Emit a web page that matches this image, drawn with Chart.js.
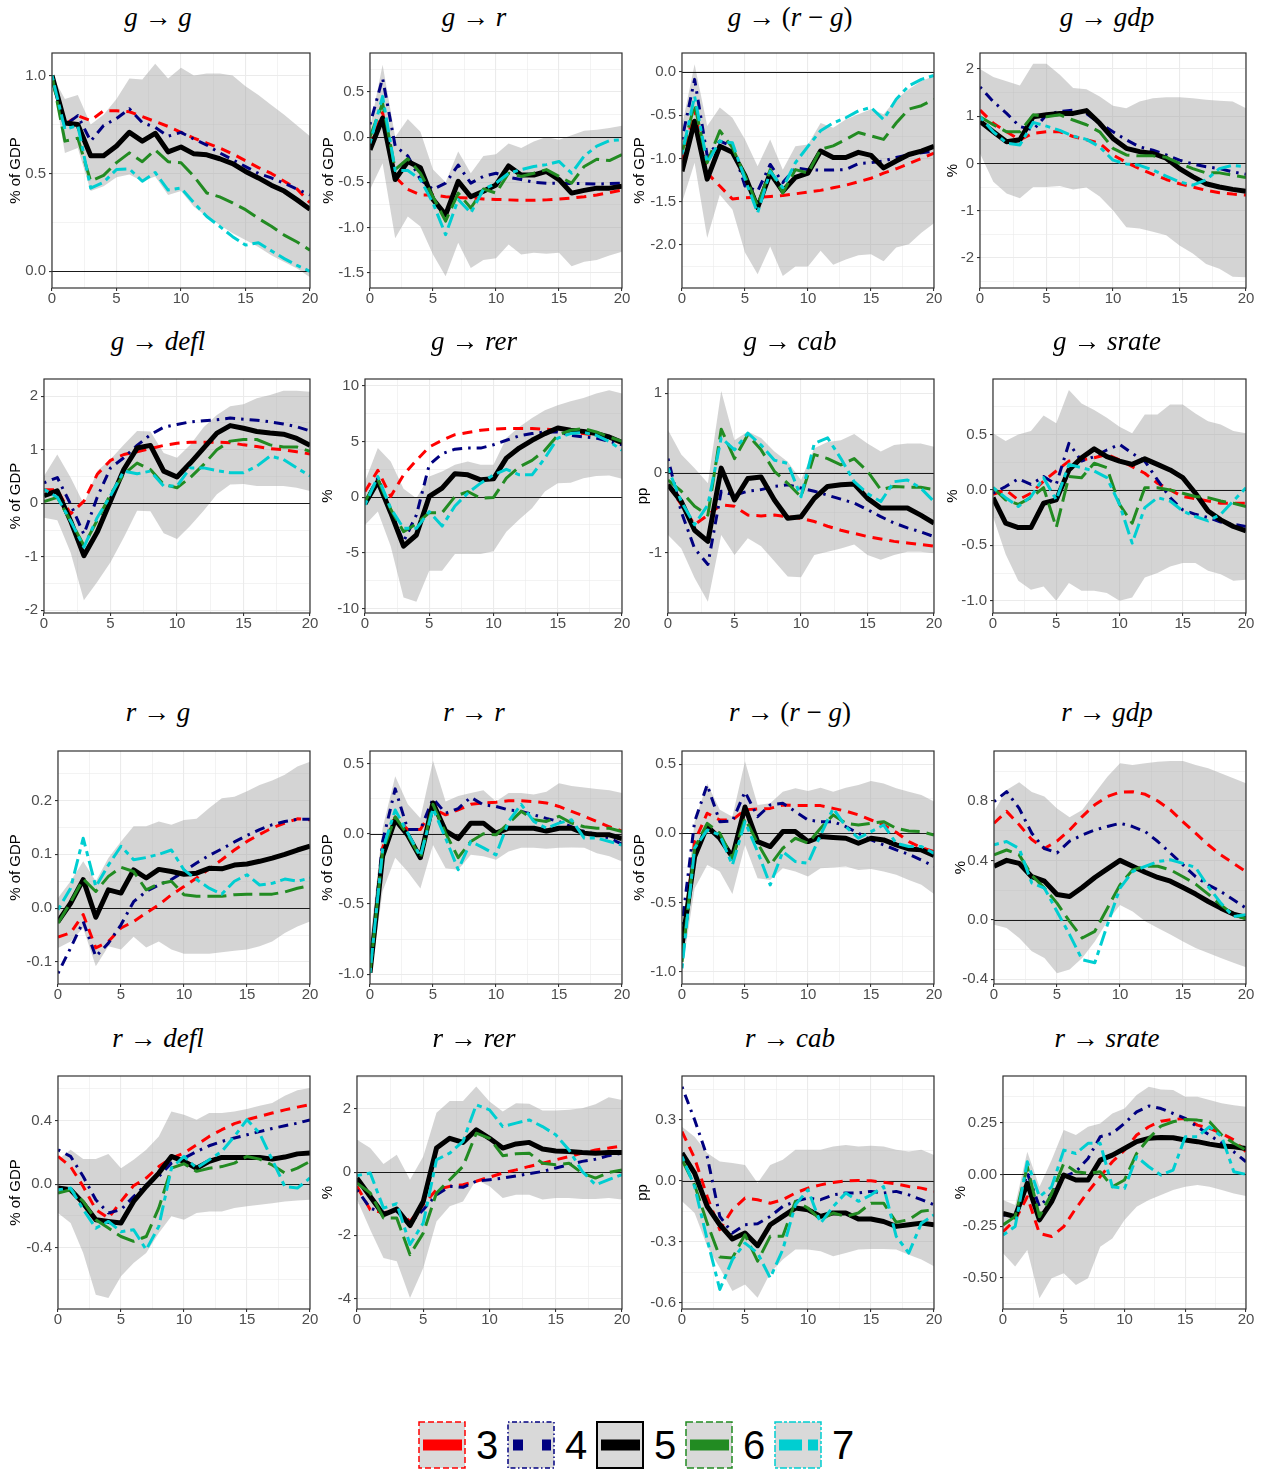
<!DOCTYPE html>
<html>
<head>
<meta charset="utf-8">
<title>Impulse responses</title>
<script src="https://cdn.jsdelivr.net/npm/chart.js@4.4.1/dist/chart.umd.min.js"></script>
<style>
    body { margin: 0; background: #fff; width: 1266px; height: 1471px; position: relative; overflow: hidden; font-family: "Liberation Sans", Arial, sans-serif; }
    .panel { position: absolute; }
    .title { position: absolute; text-align: center; font-family: "Liberation Serif", "DejaVu Serif", serif; font-size: 27px; line-height: 32px; height: 32px; color: #000; white-space: nowrap; }
    .title i { font-style: italic; }
    .key { position: absolute; }
    .key-label { position: absolute; font-size: 40px; line-height: 48px; color: #000; }
</style>
</head>
<body>
<script>
// Horizons and series
const HORIZON = [0, 1, 2, 3, 4, 5, 6, 7, 8, 9, 10, 11, 12, 13, 14, 15, 16, 17, 18, 19, 20];
const X_TICKS = [0, 5, 10, 15, 20];
const SERIES_NAMES = ["3", "4", "5", "6", "7"];

// g -> g
const gg3 = [1.0, 0.75, 0.795, 0.77, 0.82, 0.82, 0.815, 0.79, 0.765, 0.74, 0.71, 0.68, 0.655, 0.63, 0.60, 0.565, 0.53, 0.50, 0.46, 0.42, 0.35];
const gg4 = [1.0, 0.746, 0.795, 0.665, 0.745, 0.78, 0.83, 0.76, 0.735, 0.69, 0.71, 0.675, 0.645, 0.605, 0.57, 0.535, 0.50, 0.477, 0.45, 0.42, 0.39];
const gg5 = [1.0, 0.757, 0.75, 0.59, 0.59, 0.64, 0.71, 0.665, 0.705, 0.61, 0.635, 0.60, 0.595, 0.575, 0.55, 0.51, 0.477, 0.44, 0.41, 0.365, 0.317];
const gg6 = [1.0, 0.665, 0.68, 0.46, 0.49, 0.555, 0.605, 0.56, 0.62, 0.56, 0.555, 0.485, 0.40, 0.38, 0.35, 0.315, 0.27, 0.23, 0.185, 0.15, 0.108];
const gg7 = [1.0, 0.725, 0.745, 0.425, 0.455, 0.52, 0.523, 0.46, 0.505, 0.415, 0.425, 0.35, 0.28, 0.23, 0.177, 0.134, 0.146, 0.105, 0.065, 0.03, 0.0];
const ggLo = [1.0, 0.605, 0.63, 0.41, 0.435, 0.48, 0.495, 0.46, 0.485, 0.39, 0.41, 0.33, 0.28, 0.237, 0.194, 0.16, 0.125, 0.082, 0.048, 0.014, -0.03];
const ggHi = [1.0, 0.88, 0.90, 0.75, 0.80, 0.88, 0.985, 0.98, 1.06, 0.985, 1.04, 1.0, 1.01, 1.01, 1.0, 0.945, 0.90, 0.85, 0.80, 0.745, 0.69];
const ggTicks = ["0.0", "0.5", "1.0"];

// g -> r
const gr3 = [-0.10, 0.27, -0.44, -0.58, -0.64, -0.64, -0.66, -0.67, -0.675, -0.685, -0.69, -0.695, -0.70, -0.70, -0.695, -0.685, -0.675, -0.66, -0.64, -0.615, -0.585];
const gr4 = [0.14, 0.65, -0.10, -0.21, -0.47, -0.58, -0.51, -0.31, -0.51, -0.435, -0.40, -0.445, -0.47, -0.50, -0.51, -0.51, -0.515, -0.515, -0.52, -0.515, -0.51];
const gr5 = [-0.14, 0.21, -0.47, -0.27, -0.34, -0.69, -0.86, -0.49, -0.66, -0.60, -0.53, -0.32, -0.42, -0.42, -0.38, -0.47, -0.62, -0.59, -0.565, -0.565, -0.545];
const gr6 = [0.0, 0.375, -0.36, -0.24, -0.40, -0.66, -0.93, -0.62, -0.785, -0.575, -0.62, -0.40, -0.435, -0.40, -0.36, -0.435, -0.51, -0.325, -0.245, -0.26, -0.195];
const gr7 = [-0.07, 0.45, -0.37, -0.37, -0.47, -0.73, -1.08, -0.69, -0.84, -0.58, -0.51, -0.40, -0.36, -0.325, -0.305, -0.27, -0.40, -0.21, -0.10, -0.04, -0.03];
const grLo = [-0.58, -0.29, -1.12, -0.88, -0.99, -1.30, -1.54, -1.17, -1.45, -1.36, -1.34, -1.19, -1.30, -1.28, -1.29, -1.28, -1.43, -1.38, -1.36, -1.31, -1.27];
const grHi = [0.10, 0.80, 0.0, 0.20, 0.06, -0.36, -0.50, -0.16, -0.40, -0.21, -0.19, -0.07, -0.12, -0.05, 0.0, -0.03, 0.02, 0.07, 0.08, 0.10, 0.125];
const grTicks = ["-1.5", "-1.0", "-0.5", "0.0", "0.5"];

// g -> (r - g)
const grg3 = [-1.05, -0.43, -1.17, -1.32, -1.47, -1.455, -1.45, -1.44, -1.43, -1.41, -1.39, -1.37, -1.34, -1.31, -1.27, -1.23, -1.17, -1.12, -1.06, -1.0, -0.94];
const grg4 = [-0.78, -0.085, -0.97, -0.80, -0.86, -1.32, -1.38, -1.07, -1.28, -1.11, -1.13, -1.135, -1.135, -1.13, -1.06, -1.05, -1.03, -0.99, -0.955, -0.935, -0.915];
const grg5 = [-1.15, -0.57, -1.24, -0.86, -0.93, -1.20, -1.57, -1.17, -1.38, -1.22, -1.17, -0.915, -0.99, -0.99, -0.93, -0.965, -1.11, -1.03, -0.955, -0.915, -0.86];
const grg6 = [-0.935, -0.375, -1.05, -0.68, -0.875, -1.20, -1.55, -1.13, -1.40, -1.13, -1.17, -0.895, -0.855, -0.78, -0.70, -0.74, -0.78, -0.59, -0.43, -0.39, -0.315];
const grg7 = [-0.955, -0.28, -1.05, -0.80, -0.82, -1.24, -1.63, -1.15, -1.34, -1.05, -0.86, -0.68, -0.59, -0.53, -0.45, -0.41, -0.55, -0.315, -0.16, -0.085, -0.04];
const grgLo = [-1.51, -1.05, -1.92, -1.42, -1.59, -2.09, -2.34, -2.02, -2.36, -2.25, -2.25, -2.07, -2.23, -2.17, -2.12, -2.11, -2.19, -2.03, -1.995, -1.86, -1.75];
const grgHi = [-0.625, 0.09, -0.625, -0.41, -0.53, -0.78, -1.09, -0.78, -1.13, -0.86, -0.84, -0.59, -0.645, -0.55, -0.49, -0.43, -0.49, -0.315, -0.20, -0.105, -0.045];
const grgTicks = ["-2.0", "-1.5", "-1.0", "-0.5", "0.0"];

// g -> gdp
const ggdp3 = [1.13, 0.85, 0.67, 0.50, 0.64, 0.67, 0.67, 0.57, 0.50, 0.43, 0.18, 0.02, -0.11, -0.23, -0.34, -0.43, -0.50, -0.57, -0.62, -0.65, -0.67];
const ggdp4 = [1.62, 1.31, 1.06, 0.78, 0.71, 1.03, 1.10, 1.13, 1.06, 0.85, 0.67, 0.50, 0.35, 0.28, 0.18, 0.07, -0.01, -0.07, -0.11, -0.18, -0.23];
const ggdp5 = [0.89, 0.67, 0.46, 0.50, 0.99, 1.03, 1.06, 1.06, 1.12, 0.85, 0.53, 0.32, 0.25, 0.21, 0.11, -0.11, -0.28, -0.43, -0.50, -0.55, -0.59];
const ggdp6 = [0.99, 0.82, 0.67, 0.67, 1.03, 0.99, 1.03, 0.92, 0.82, 0.67, 0.32, 0.18, 0.16, 0.16, 0.13, 0.0, -0.11, -0.20, -0.20, -0.25, -0.30];
const ggdp7 = [0.99, 0.67, 0.43, 0.39, 0.87, 0.79, 0.70, 0.58, 0.51, 0.35, 0.07, -0.01, -0.04, -0.14, -0.27, -0.39, -0.46, -0.35, -0.11, -0.04, -0.07];
const ggdpLo = [0.21, -0.39, -0.64, -0.74, -0.50, -0.50, -0.48, -0.55, -0.51, -0.70, -0.99, -1.35, -1.38, -1.45, -1.52, -1.74, -1.91, -2.13, -2.23, -2.40, -2.41];
const ggdpHi = [2.0, 1.83, 1.74, 1.65, 2.11, 2.11, 1.88, 1.60, 1.57, 1.42, 1.22, 1.17, 1.31, 1.38, 1.40, 1.40, 1.38, 1.35, 1.33, 1.31, 1.17];
const ggdpTicks = ["-2", "-1", "0", "1", "2"];

// g -> defl
const gd3 = [0.25, 0.25, -0.20, 0.04, 0.54, 0.80, 0.91, 0.96, 1.02, 1.08, 1.12, 1.14, 1.14, 1.14, 1.13, 1.09, 1.06, 1.02, 1.0, 0.96, 0.92];
const gd4 = [0.38, 0.48, -0.02, -0.58, 0.11, 0.66, 0.85, 1.08, 1.28, 1.42, 1.47, 1.52, 1.54, 1.56, 1.59, 1.57, 1.55, 1.52, 1.48, 1.43, 1.35];
const gd5 = [0.14, 0.23, -0.33, -0.98, -0.54, 0.04, 0.63, 1.03, 1.08, 0.60, 0.49, 0.75, 1.03, 1.31, 1.45, 1.40, 1.34, 1.31, 1.29, 1.21, 1.08];
const gd6 = [0.03, 0.11, -0.33, -0.79, -0.32, 0.17, 0.54, 0.75, 0.63, 0.35, 0.29, 0.48, 0.72, 1.0, 1.16, 1.19, 1.19, 1.09, 1.05, 1.05, 0.97];
const gd7 = [0.26, 0.11, -0.33, -0.82, -0.27, 0.14, 0.60, 0.55, 0.60, 0.32, 0.32, 0.66, 0.66, 0.61, 0.57, 0.57, 0.69, 0.88, 0.82, 0.66, 0.51];
const gdLo = [-0.27, -0.32, -0.92, -1.81, -1.47, -1.10, -0.64, -0.14, -0.15, -0.56, -0.67, -0.42, -0.14, 0.17, 0.35, 0.36, 0.32, 0.32, 0.32, 0.29, 0.23];
const gdHi = [0.51, 0.91, 0.48, -0.02, 0.60, 0.82, 1.09, 1.35, 1.34, 0.94, 0.85, 1.09, 1.42, 1.65, 1.81, 1.85, 1.96, 2.02, 2.10, 2.10, 2.08];
const gdTicks = ["-2", "-1", "0", "1", "2"];

// g -> rer
const grer3 = [0.5, 2.4, 0.06, 2.0, 3.3, 4.5, 5.1, 5.6, 5.8, 6.0, 6.1, 6.15, 6.15, 6.15, 6.1, 6.0, 5.85, 5.7, 5.55, 5.3, 4.8];
const grer4 = [-0.4, 1.7, -1.3, -4.0, -1.6, 2.9, 3.9, 4.3, 4.4, 4.4, 4.7, 5.1, 5.5, 5.7, 5.85, 5.85, 5.55, 5.4, 5.3, 5.0, 4.7];
const grer5 = [-0.6, 1.4, -1.4, -4.4, -3.4, 0.06, 0.8, 2.1, 2.0, 1.55, 1.64, 3.5, 4.4, 5.1, 5.7, 6.2, 6.0, 5.9, 5.7, 5.4, 4.9];
const grer6 = [-0.4, 1.6, -1.1, -3.1, -2.4, -1.4, -1.4, 0.06, 0.5, -0.1, -0.03, 1.7, 2.7, 3.3, 4.2, 5.55, 6.0, 6.15, 5.85, 5.4, 5.0];
const grer7 = [-0.7, 1.85, -1.0, -2.8, -2.8, -1.3, -2.6, -0.8, 0.36, 1.25, 2.0, 2.5, 2.0, 2.0, 3.5, 5.3, 5.7, 5.8, 5.55, 5.0, 4.2];
const grerLo = [-2.5, -1.3, -4.4, -9.0, -9.4, -6.6, -6.6, -5.1, -5.1, -5.1, -4.85, -3.1, -2.0, -1.0, 0.5, 1.25, 1.3, 1.7, 1.9, 1.95, 1.64];
const grerHi = [1.4, 4.4, 3.2, 0.74, -0.1, 1.85, 2.3, 2.9, 3.2, 2.9, 2.9, 5.3, 6.3, 7.1, 7.8, 8.25, 8.6, 8.9, 9.3, 9.6, 9.3];
const grerTicks = ["-10", "-5", "0", "5", "10"];

// g -> cab
const gc3 = [-0.15, -0.40, -0.65, -0.53, -0.40, -0.42, -0.53, -0.54, -0.53, -0.55, -0.57, -0.61, -0.67, -0.72, -0.76, -0.80, -0.83, -0.86, -0.88, -0.90, -0.92];
const gc4 = [0.18, -0.49, -0.95, -1.15, -0.23, -0.28, -0.23, -0.21, -0.17, -0.15, -0.19, -0.23, -0.28, -0.33, -0.38, -0.46, -0.55, -0.63, -0.69, -0.74, -0.80];
const gc5 = [-0.15, -0.36, -0.72, -0.86, 0.06, -0.34, -0.07, -0.05, -0.34, -0.57, -0.55, -0.32, -0.17, -0.15, -0.14, -0.32, -0.44, -0.44, -0.44, -0.53, -0.63];
const gc6 = [-0.09, -0.23, -0.42, -0.53, 0.55, 0.18, 0.48, 0.29, 0.02, -0.13, -0.30, 0.23, 0.18, 0.10, 0.18, 0.02, -0.21, -0.17, -0.18, -0.18, -0.21];
const gc7 = [0.06, -0.36, -0.65, -0.40, 0.44, 0.29, 0.50, 0.35, 0.16, 0.12, -0.30, 0.37, 0.44, 0.18, -0.11, -0.26, -0.36, -0.11, -0.09, -0.19, -0.36];
const gcLo = [-0.78, -0.95, -1.32, -1.62, -0.78, -1.03, -0.82, -0.92, -1.11, -1.30, -1.31, -1.03, -0.99, -0.95, -0.90, -1.03, -1.09, -1.03, -0.99, -0.99, -1.01];
const gcHi = [0.54, 0.23, 0.06, -0.13, 1.03, 0.41, 0.52, 0.44, 0.27, 0.14, -0.09, 0.31, 0.39, 0.41, 0.49, 0.37, 0.27, 0.35, 0.37, 0.37, 0.33];
const gcTicks = ["-1", "0", "1"];

// g -> srate
const gs3 = [-0.04, 0.0, -0.09, -0.03, 0.08, 0.17, 0.26, 0.27, 0.29, 0.32, 0.27, 0.21, 0.15, 0.06, 0.0, -0.06, -0.08, -0.10, -0.12, -0.12, -0.12];
const gs4 = [-0.03, 0.03, 0.10, 0.05, 0.12, 0.05, 0.42, 0.26, 0.30, 0.36, 0.41, 0.33, 0.26, 0.09, -0.07, -0.18, -0.22, -0.25, -0.29, -0.31, -0.33];
const gs5 = [-0.07, -0.30, -0.34, -0.34, -0.12, -0.09, 0.18, 0.29, 0.37, 0.30, 0.26, 0.23, 0.28, 0.23, 0.18, 0.11, -0.03, -0.19, -0.27, -0.33, -0.37];
const gs6 = [0.02, -0.09, -0.13, -0.07, 0.02, -0.34, 0.12, 0.11, 0.24, 0.20, -0.13, -0.30, 0.02, 0.02, 0.0, -0.03, -0.06, -0.07, -0.10, -0.12, -0.15];
const gs7 = [0.02, -0.07, -0.15, -0.06, 0.11, -0.09, 0.23, 0.20, 0.17, 0.11, -0.13, -0.48, -0.16, -0.07, -0.10, -0.19, -0.24, -0.28, -0.22, -0.10, 0.02];
const gsLo = [-0.24, -0.58, -0.82, -0.90, -0.87, -1.0, -0.84, -0.91, -0.91, -0.93, -1.0, -0.97, -0.79, -0.75, -0.69, -0.66, -0.66, -0.73, -0.76, -0.82, -0.81];
const gsHi = [0.51, 0.44, 0.50, 0.53, 0.67, 0.60, 0.90, 0.78, 0.72, 0.65, 0.57, 0.51, 0.68, 0.68, 0.77, 0.77, 0.69, 0.62, 0.59, 0.53, 0.51];
const gsTicks = ["-1.0", "-0.5", "0.0", "0.5"];

// r -> g
const rg3 = [-0.054, -0.046, -0.012, -0.074, -0.062, -0.037, -0.025, -0.009, 0.006, 0.025, 0.040, 0.056, 0.073, 0.090, 0.108, 0.124, 0.137, 0.149, 0.158, 0.166, 0.164];
const rg4 = [-0.121, -0.074, -0.025, -0.090, -0.065, -0.031, 0.012, 0.031, 0.043, 0.053, 0.068, 0.084, 0.098, 0.110, 0.123, 0.135, 0.146, 0.155, 0.161, 0.165, 0.165];
const rg5 = [-0.025, 0.009, 0.053, -0.017, 0.034, 0.028, 0.071, 0.056, 0.072, 0.068, 0.063, 0.065, 0.074, 0.073, 0.080, 0.082, 0.087, 0.093, 0.100, 0.108, 0.115];
const rg6 = [-0.028, 0.011, 0.054, 0.031, 0.059, 0.076, 0.068, 0.034, 0.045, 0.050, 0.025, 0.022, 0.022, 0.022, 0.025, 0.026, 0.026, 0.026, 0.030, 0.037, 0.042];
const rg7 = [-0.003, 0.037, 0.130, 0.040, 0.080, 0.115, 0.090, 0.094, 0.100, 0.108, 0.071, 0.053, 0.037, 0.026, 0.050, 0.062, 0.043, 0.046, 0.054, 0.050, 0.056];
const rgLo = [-0.074, -0.062, -0.037, -0.108, -0.071, -0.077, -0.053, -0.073, -0.062, -0.077, -0.085, -0.085, -0.085, -0.082, -0.079, -0.077, -0.071, -0.062, -0.046, -0.034, -0.025];
const rgHi = [0.019, 0.050, 0.087, 0.050, 0.093, 0.124, 0.152, 0.152, 0.161, 0.155, 0.164, 0.166, 0.186, 0.204, 0.207, 0.217, 0.229, 0.237, 0.248, 0.263, 0.272];
const rgTicks = ["-0.1", "0.0", "0.1", "0.2"];

// r -> r
const rr3 = [-0.99, -0.10, 0.12, 0.03, 0.03, 0.18, 0.135, 0.17, 0.21, 0.22, 0.225, 0.235, 0.235, 0.23, 0.22, 0.195, 0.16, 0.125, 0.088, 0.05, 0.02];
const rr4 = [-0.99, -0.055, 0.32, 0.03, 0.03, 0.25, 0.147, 0.18, 0.26, 0.207, 0.195, 0.17, 0.16, 0.135, 0.11, 0.088, 0.05, 0.017, -0.007, -0.03, -0.074];
const rr5 = [-0.99, -0.16, 0.10, -0.01, -0.17, 0.22, 0.02, -0.035, 0.076, 0.076, 0.005, 0.04, 0.04, 0.04, 0.02, 0.04, 0.04, 0.005, -0.007, -0.007, -0.035];
const rr6 = [-0.99, -0.126, 0.12, -0.007, -0.17, 0.21, 0.005, -0.17, -0.055, 0.0, -0.007, 0.076, 0.16, 0.10, 0.088, 0.125, 0.076, 0.05, 0.04, 0.04, 0.017];
const rr7 = [-0.99, -0.114, 0.17, 0.005, -0.16, 0.18, -0.03, -0.256, -0.055, -0.10, -0.15, 0.088, 0.21, 0.088, 0.04, 0.076, 0.10, -0.03, -0.03, -0.055, -0.08];
const rrLo = [-1.06, -0.41, -0.17, -0.27, -0.39, -0.08, -0.245, -0.256, -0.15, -0.16, -0.185, -0.126, -0.10, -0.10, -0.107, -0.10, -0.097, -0.10, -0.138, -0.16, -0.197];
const rrHi = [-0.77, 0.04, 0.41, 0.21, 0.11, 0.52, 0.23, 0.27, 0.29, 0.31, 0.23, 0.29, 0.29, 0.28, 0.30, 0.36, 0.34, 0.33, 0.32, 0.31, 0.29];
const rrTicks = ["-1.0", "-0.5", "0.0", "0.5"];

// r -> (r - g)
const rrg3 = [-0.855, -0.06, 0.145, 0.096, 0.096, 0.17, 0.176, 0.18, 0.205, 0.20, 0.20, 0.20, 0.18, 0.16, 0.133, 0.096, 0.06, 0.007, -0.06, -0.104, -0.133];
const rrg4 = [-0.66, 0.084, 0.35, 0.084, 0.089, 0.30, 0.12, 0.205, 0.217, 0.157, 0.096, 0.084, 0.084, 0.048, 0.0, -0.048, -0.084, -0.12, -0.152, -0.193, -0.24];
const rrg5 = [-0.81, -0.17, 0.05, -0.036, -0.17, 0.19, -0.06, -0.096, 0.012, 0.012, -0.06, -0.024, -0.031, -0.036, -0.072, -0.036, -0.048, -0.084, -0.113, -0.12, -0.16];
const rrg6 = [-0.93, -0.108, 0.072, 0.0, -0.18, 0.108, -0.072, -0.23, -0.108, -0.036, -0.072, 0.036, 0.133, 0.072, 0.06, 0.072, 0.084, 0.036, 0.017, 0.012, -0.012];
const rrg7 = [-0.976, -0.108, 0.024, -0.012, -0.23, 0.084, -0.133, -0.373, -0.133, -0.205, -0.217, -0.012, 0.18, 0.048, -0.036, 0.012, 0.06, -0.072, -0.096, -0.096, -0.145];
const rrgLo = [-1.0, -0.40, -0.23, -0.277, -0.44, -0.084, -0.325, -0.337, -0.253, -0.277, -0.313, -0.253, -0.248, -0.24, -0.265, -0.258, -0.277, -0.30, -0.337, -0.373, -0.44];
const rrgHi = [-0.735, 0.084, 0.36, 0.17, 0.12, 0.52, 0.205, 0.217, 0.30, 0.325, 0.306, 0.33, 0.30, 0.33, 0.35, 0.378, 0.36, 0.325, 0.30, 0.277, 0.229];
const rrgTicks = ["-1.0", "-0.5", "0.0", "0.5"];

// r -> gdp
const rgdp3 = [0.65, 0.73, 0.64, 0.54, 0.48, 0.53, 0.605, 0.695, 0.774, 0.83, 0.86, 0.863, 0.845, 0.80, 0.74, 0.66, 0.583, 0.505, 0.437, 0.38, 0.325];
const rgdp4 = [0.796, 0.863, 0.75, 0.583, 0.48, 0.45, 0.53, 0.57, 0.605, 0.628, 0.65, 0.628, 0.594, 0.527, 0.45, 0.37, 0.29, 0.235, 0.19, 0.135, 0.078];
const rgdp5 = [0.36, 0.40, 0.38, 0.29, 0.26, 0.17, 0.157, 0.217, 0.285, 0.343, 0.40, 0.36, 0.32, 0.285, 0.26, 0.217, 0.173, 0.123, 0.078, 0.038, 0.016];
const rgdp6 = [0.437, 0.47, 0.437, 0.30, 0.213, 0.112, -0.011, -0.123, -0.078, 0.078, 0.235, 0.336, 0.36, 0.36, 0.336, 0.29, 0.24, 0.173, 0.10, 0.034, 0.007];
const rgdp7 = [0.505, 0.527, 0.48, 0.247, 0.213, 0.056, -0.10, -0.27, -0.29, -0.034, 0.213, 0.325, 0.36, 0.392, 0.404, 0.38, 0.352, 0.224, 0.112, 0.022, 0.034];
const rgdpLo = [-0.034, -0.056, -0.123, -0.213, -0.258, -0.36, -0.336, -0.258, -0.146, -0.011, 0.10, 0.056, -0.011, -0.056, -0.10, -0.146, -0.19, -0.224, -0.258, -0.29, -0.32];
const rgdpHi = [0.73, 0.874, 0.926, 0.86, 0.83, 0.75, 0.69, 0.74, 0.852, 0.964, 1.054, 1.043, 1.054, 1.065, 1.07, 1.07, 1.043, 1.02, 0.987, 0.953, 0.92];
const rgdpTicks = ["-0.4", "0.0", "0.4", "0.8"];

// r -> defl
const rd3 = [0.174, 0.11, -0.015, -0.16, -0.214, -0.109, -0.01, 0.038, 0.11, 0.163, 0.195, 0.247, 0.30, 0.342, 0.38, 0.405, 0.426, 0.447, 0.467, 0.484, 0.50];
const rd4 = [0.216, 0.174, 0.048, -0.099, -0.182, -0.161, -0.078, -0.004, 0.048, 0.132, 0.163, 0.205, 0.241, 0.268, 0.29, 0.31, 0.33, 0.35, 0.367, 0.383, 0.404];
const rd5 = [-0.025, -0.036, -0.12, -0.224, -0.235, -0.245, -0.109, -0.015, 0.069, 0.174, 0.143, 0.10, 0.143, 0.168, 0.168, 0.168, 0.168, 0.157, 0.17, 0.19, 0.195];
const rd6 = [-0.057, -0.036, -0.109, -0.224, -0.277, -0.33, -0.36, -0.33, -0.15, 0.10, 0.128, 0.08, 0.10, 0.11, 0.132, 0.174, 0.157, 0.12, 0.069, 0.10, 0.143];
const rd7 = [-0.036, -0.025, -0.16, -0.277, -0.235, -0.30, -0.287, -0.413, -0.266, 0.10, 0.174, 0.10, 0.153, 0.205, 0.30, 0.405, 0.32, 0.153, -0.015, -0.025, 0.038];
const rdLo = [-0.182, -0.245, -0.434, -0.696, -0.717, -0.58, -0.497, -0.434, -0.308, -0.203, -0.224, -0.182, -0.172, -0.172, -0.15, -0.14, -0.13, -0.12, -0.109, -0.103, -0.099];
const rdHi = [0.153, 0.216, 0.157, 0.157, 0.19, 0.10, 0.153, 0.216, 0.30, 0.457, 0.436, 0.405, 0.447, 0.447, 0.457, 0.472, 0.493, 0.51, 0.556, 0.59, 0.604];
const rdTicks = ["-0.4", "0.0", "0.4"];

// r -> rer
const rrer3 = [-0.45, -1.19, -1.29, -1.19, -1.56, -1.03, -0.56, -0.45, -0.40, -0.29, -0.16, -0.03, 0.07, 0.18, 0.28, 0.39, 0.49, 0.60, 0.70, 0.76, 0.83];
const rrer4 = [-0.56, -1.14, -1.29, -1.24, -1.61, -1.19, -0.72, -0.45, -0.48, -0.29, -0.24, -0.19, -0.12, -0.05, 0.02, 0.13, 0.23, 0.34, 0.41, 0.52, 0.60];
const rrer5 = [-0.19, -0.77, -1.35, -1.17, -1.69, -0.93, 0.76, 1.07, 0.94, 1.34, 1.07, 0.76, 0.89, 0.94, 0.73, 0.67, 0.65, 0.62, 0.60, 0.62, 0.62];
const rrer6 = [-0.35, -0.66, -1.45, -1.45, -2.61, -1.93, -0.66, -0.24, 0.18, 1.23, 1.07, 0.52, 0.58, 0.60, 0.28, 0.23, 0.28, -0.03, -0.19, -0.01, 0.07];
const rrer7 = [-0.11, -0.03, -1.14, -1.0, -2.29, -1.61, 0.39, 0.60, 0.97, 2.13, 1.97, 1.44, 1.55, 1.65, 1.44, 1.18, 0.70, 0.02, -0.40, -0.24, -0.08];
const rrerLo = [-0.87, -1.82, -2.72, -2.82, -3.98, -3.03, -1.56, -1.08, -0.93, -0.24, -0.45, -0.82, -0.72, -0.72, -0.87, -0.82, -0.82, -0.85, -0.85, -0.82, -0.87];
const rrerHi = [1.02, 0.76, 0.26, 0.55, -0.24, 0.49, 1.88, 2.25, 2.25, 2.71, 2.23, 1.92, 2.18, 2.16, 1.95, 1.95, 1.97, 2.02, 2.15, 2.37, 2.28];
const rrerTicks = ["-4", "-2", "0", "2"];

// r -> cab
const rc3 = [0.242, 0.111, -0.077, -0.24, -0.142, -0.085, -0.093, -0.11, -0.093, -0.06, -0.036, -0.02, -0.008, 0.0, 0.002, 0.0, -0.007, -0.015, -0.028, -0.036, -0.052];
const rc4 = [0.462, 0.30, 0.119, -0.175, -0.257, -0.216, -0.211, -0.175, -0.126, -0.101, -0.085, -0.093, -0.069, -0.06, -0.06, -0.052, -0.06, -0.052, -0.069, -0.093, -0.118];
const rc5 = [0.136, 0.038, -0.126, -0.216, -0.286, -0.257, -0.319, -0.216, -0.175, -0.134, -0.142, -0.175, -0.158, -0.158, -0.188, -0.188, -0.20, -0.224, -0.216, -0.208, -0.216];
const rc6 = [0.103, -0.02, -0.208, -0.374, -0.379, -0.265, -0.395, -0.273, -0.273, -0.101, -0.134, -0.191, -0.158, -0.175, -0.158, -0.11, -0.11, -0.204, -0.191, -0.15, -0.142];
const rc7 = [0.119, -0.028, -0.289, -0.534, -0.387, -0.306, -0.355, -0.477, -0.338, -0.118, -0.044, -0.208, -0.126, -0.06, -0.101, -0.069, -0.028, -0.273, -0.355, -0.208, -0.167];
const rcLo = [-0.101, -0.158, -0.322, -0.428, -0.542, -0.51, -0.575, -0.453, -0.387, -0.338, -0.338, -0.346, -0.371, -0.355, -0.338, -0.335, -0.335, -0.338, -0.363, -0.387, -0.42];
const rcHi = [0.266, 0.217, 0.136, 0.095, 0.087, 0.078, -0.011, 0.078, 0.103, 0.152, 0.152, 0.152, 0.168, 0.176, 0.168, 0.172, 0.168, 0.152, 0.144, 0.152, 0.127];
const rcTicks = ["-0.6", "-0.3", "0.0", "0.3"];

// r -> srate
const rs3 = [-0.277, -0.22, -0.108, -0.285, -0.30, -0.252, -0.164, -0.084, -0.011, 0.061, 0.117, 0.19, 0.23, 0.257, 0.265, 0.27, 0.238, 0.222, 0.198, 0.166, 0.109];
const rs4 = [-0.196, -0.204, 0.005, -0.156, -0.092, -0.011, 0.013, 0.077, 0.182, 0.198, 0.246, 0.302, 0.33, 0.318, 0.294, 0.27, 0.23, 0.19, 0.15, 0.109, 0.061];
const rs5 = [-0.188, -0.204, -0.043, -0.22, -0.132, -0.003, -0.027, -0.027, 0.069, 0.093, 0.125, 0.158, 0.174, 0.178, 0.177, 0.166, 0.158, 0.146, 0.137, 0.133, 0.125];
const rs6 = [-0.244, -0.204, 0.037, -0.204, -0.092, 0.053, 0.013, 0.005, 0.013, -0.06, -0.027, 0.101, 0.174, 0.233, 0.254, 0.265, 0.262, 0.254, 0.19, 0.15, 0.117];
const rs7 = [-0.293, -0.252, 0.061, -0.108, -0.06, 0.117, 0.101, 0.15, 0.15, -0.06, -0.068, 0.085, 0.037, -0.003, 0.021, 0.182, 0.182, 0.23, 0.182, 0.013, 0.0];
const rsLo = [-0.381, -0.445, -0.365, -0.598, -0.502, -0.477, -0.534, -0.502, -0.349, -0.309, -0.22, -0.156, -0.124, -0.10, -0.076, -0.06, -0.051, -0.06, -0.076, -0.092, -0.104];
const rsHi = [-0.124, -0.148, 0.109, -0.06, 0.069, 0.214, 0.19, 0.23, 0.246, 0.294, 0.318, 0.383, 0.423, 0.41, 0.407, 0.375, 0.375, 0.359, 0.343, 0.334, 0.326];
const rsTicks = ["-0.50", "-0.25", "0.00", "0.25"];

// Panel table (row by row)
const PANELS = [
    { title: "g → g", unit: "% of GDP", lines: [gg3, gg4, gg5, gg6, gg7], lo: ggLo, hi: ggHi, ticks: ggTicks, yMin: -0.085, yMax: 1.115 },
    { title: "g → r", unit: "% of GDP", lines: [gr3, gr4, gr5, gr6, gr7], lo: grLo, hi: grHi, ticks: grTicks, yMin: -1.67, yMax: 0.93 },
    { title: "g → (r − g)", unit: "% of GDP", lines: [grg3, grg4, grg5, grg6, grg7], lo: grgLo, hi: grgHi, ticks: grgTicks, yMin: -2.50, yMax: 0.22 },
    { title: "g → gdp", unit: "%", lines: [ggdp3, ggdp4, ggdp5, ggdp6, ggdp7], lo: ggdpLo, hi: ggdpHi, ticks: ggdpTicks, yMin: -2.64, yMax: 2.34 },
    { title: "g → defl", unit: "% of GDP", lines: [gd3, gd4, gd5, gd6, gd7], lo: gdLo, hi: gdHi, ticks: gdTicks, yMin: -2.05, yMax: 2.32 },
    { title: "g → rer", unit: "%", lines: [grer3, grer4, grer5, grer6, grer7], lo: grerLo, hi: grerHi, ticks: grerTicks, yMin: -10.4, yMax: 10.6 },
    { title: "g → cab", unit: "pp", lines: [gc3, gc4, gc5, gc6, gc7], lo: gcLo, hi: gcHi, ticks: gcTicks, yMin: -1.76, yMax: 1.18 },
    { title: "g → srate", unit: "%", lines: [gs3, gs4, gs5, gs6, gs7], lo: gsLo, hi: gsHi, ticks: gsTicks, yMin: -1.11, yMax: 1.0 },
    { title: "r → g", unit: "% of GDP", lines: [rg3, rg4, rg5, rg6, rg7], lo: rgLo, hi: rgHi, ticks: rgTicks, yMin: -0.141, yMax: 0.292 },
    { title: "r → r", unit: "% of GDP", lines: [rr3, rr4, rr5, rr6, rr7], lo: rrLo, hi: rrHi, ticks: rrTicks, yMin: -1.07, yMax: 0.59 },
    { title: "r → (r − g)", unit: "% of GDP", lines: [rrg3, rrg4, rrg5, rrg6, rrg7], lo: rrgLo, hi: rrgHi, ticks: rrgTicks, yMin: -1.09, yMax: 0.595 },
    { title: "r → gdp", unit: "%", lines: [rgdp3, rgdp4, rgdp5, rgdp6, rgdp7], lo: rgdpLo, hi: rgdpHi, ticks: rgdpTicks, yMin: -0.433, yMax: 1.137 },
    { title: "r → defl", unit: "% of GDP", lines: [rd3, rd4, rd5, rd6, rd7], lo: rdLo, hi: rdHi, ticks: rdTicks, yMin: -0.786, yMax: 0.68 },
    { title: "r → rer", unit: "%", lines: [rrer3, rrer4, rrer5, rrer6, rrer7], lo: rrerLo, hi: rrerHi, ticks: rrerTicks, yMin: -4.33, yMax: 3.04 },
    { title: "r → cab", unit: "pp", lines: [rc3, rc4, rc5, rc6, rc7], lo: rcLo, hi: rcHi, ticks: rcTicks, yMin: -0.63, yMax: 0.515 },
    { title: "r → srate", unit: "%", lines: [rs3, rs4, rs5, rs6, rs7], lo: rsLo, hi: rsHi, ticks: rsTicks, yMin: -0.65, yMax: 0.475 }
];

// Series styles
const SERIES_COLORS = ["#ff0000", "#000080", "#000000", "#228b22", "#00ced1"];
const SERIES_WIDTHS = [3, 3, 5, 3, 3];
const SERIES_DASHES = [[10, 7], [2.5, 6, 10, 6], [], [19, 7], [5, 5, 15, 5]];
const BAND_COLOR = "rgba(160, 160, 160, 0.45)";

// Layout (pixels)
const COL_X = [0, 316, 632, 948];
const COL_W = [316, 316, 316, 318];
const PLOT_RIGHT = [310, 622, 934, 1246];
const PLOT_TOP = [53, 379, 751, 1076];
const PLOT_BOTTOM = [288, 613, 984, 1309];
const TITLE_TOP = [1, 325, 696, 1022];
const PLOT_LEFT = [52, 370, 682, 980, 44, 365, 668, 993, 58, 370, 682, 994, 58, 357, 682, 1003];
const Y_TITLE_X = [16, 329, 640, 953, 16, 328, 643, 953, 16, 328, 640, 961, 16, 328, 643, 961];
const PAD_TOP = 12, PAD_RIGHT = 10, PAD_BOTTOM = 2, X_AXIS_H = 24;
const Y_TITLE_OFFSET = 15; // title padding + half line height

Chart.defaults.font.family = '"Liberation Sans", Arial, sans-serif';
Chart.defaults.animation = false;

const near = (a, b) => Math.abs(a - b) < 1e-9;

// Zero line just above the band, and the panel frame on top
const framePlugin = {
    id: "frame",
    afterDatasetDraw(chart, args) {
        if (args.index !== 1) return;
        const { ctx, chartArea: a } = chart;
        const py = Math.round(chart.scales.y.getPixelForValue(0)) + 0.5;
        ctx.save();
        ctx.strokeStyle = "#1a1a1a";
        ctx.lineWidth = 1;
        ctx.beginPath();
        ctx.moveTo(a.left, py);
        ctx.lineTo(a.right, py);
        ctx.stroke();
        ctx.restore();
    },
    afterDraw(chart) {
        const { ctx, chartArea: a } = chart;
        ctx.save();
        ctx.strokeStyle = "#333333";
        ctx.lineWidth = 1.2;
        ctx.strokeRect(a.left, a.top, a.right - a.left, a.bottom - a.top);
        ctx.restore();
    }
};

function points(arr) {
    return HORIZON.map((h, i) => ({ x: h, y: arr[i] }));
}

// Major ticks from the labels, minor grid halfway between
function gridValues(majors, min, max) {
    const step = majors[1] - majors[0];
    const out = majors.map(v => ({ value: v, major: true }));
    for (let v = majors[0] - step / 2; v <= max; v += step) {
        if (v >= min) out.push({ value: v, major: false });
    }
    return out.sort((a, b) => a.value - b.value);
}

function mathTitle(text) {
    return text.replace(/[a-z]+/g, m => `<i>${m}</i>`);
}

function buildPanel(p, i) {
    const r = Math.floor(i / 4), c = i % 4;
    const left = Y_TITLE_X[i] - Y_TITLE_OFFSET;
    const top = PLOT_TOP[r] - PAD_TOP;
    const width = PLOT_RIGHT[c] + PAD_RIGHT - left;
    const height = PLOT_BOTTOM[r] - PLOT_TOP[r] + PAD_TOP + X_AXIS_H + PAD_BOTTOM;
    const axisWidth = PLOT_LEFT[i] - left;

    const title = document.createElement("div");
    title.className = "title";
    title.style.left = COL_X[c] + "px";
    title.style.width = COL_W[c] + "px";
    title.style.top = TITLE_TOP[r] + "px";
    title.innerHTML = mathTitle(p.title);
    document.body.appendChild(title);

    const canvas = document.createElement("canvas");
    canvas.className = "panel";
    canvas.width = width;
    canvas.height = height;
    canvas.style.left = left + "px";
    canvas.style.top = top + "px";
    canvas.style.width = width + "px";
    canvas.style.height = height + "px";
    document.body.appendChild(canvas);

    const majors = p.ticks.map(Number);
    const yGrid = gridValues(majors, p.yMin, p.yMax);
    const xGrid = gridValues(X_TICKS, 0, 20);
    const isMajorX = v => X_TICKS.some(t => near(t, v));
    const yLabel = v => {
        const k = majors.findIndex(t => near(t, v));
        return k >= 0 ? p.ticks[k] : "";
    };

    const datasets = [
        { data: points(p.lo), borderWidth: 0, pointRadius: 0, fill: false, order: 10 },
        { data: points(p.hi), borderWidth: 0, pointRadius: 0, fill: "-1", backgroundColor: BAND_COLOR, order: 10 }
    ];
    p.lines.forEach((arr, k) => {
        datasets.push({
            label: SERIES_NAMES[k],
            data: points(arr),
            borderColor: SERIES_COLORS[k],
            borderWidth: SERIES_WIDTHS[k],
            borderDash: SERIES_DASHES[k],
            borderCapStyle: "butt",
            borderJoinStyle: "round",
            pointRadius: 0,
            fill: false,
            tension: 0,
            order: 5 - k
        });
    });

    new Chart(canvas.getContext("2d"), {
        type: "line",
        data: { datasets },
        plugins: [framePlugin],
        options: {
            responsive: false,
            devicePixelRatio: 1,
            events: [],
            layout: { padding: { top: PAD_TOP, right: PAD_RIGHT, bottom: PAD_BOTTOM, left: 0 } },
            plugins: { legend: { display: false }, tooltip: { enabled: false } },
            scales: {
                x: {
                    type: "linear",
                    min: 0,
                    max: 20,
                    afterBuildTicks: s => { s.ticks = xGrid.map(t => ({ value: t.value })); },
                    afterFit: s => { s.height = X_AXIS_H; },
                    border: { display: false },
                    grid: {
                        color: "#ebebeb",
                        lineWidth: ctx => (ctx.tick && isMajorX(ctx.tick.value) ? 1.1 : 0.6),
                        tickColor: ctx => (ctx.tick && isMajorX(ctx.tick.value) ? "#333333" : "rgba(0,0,0,0)"),
                        tickLength: 3
                    },
                    ticks: {
                        autoSkip: false,
                        maxRotation: 0,
                        padding: -1,
                        color: "#4d4d4d",
                        font: { size: 15 },
                        callback: v => (isMajorX(v) ? String(v) : "")
                    }
                },
                y: {
                    type: "linear",
                    min: p.yMin,
                    max: p.yMax,
                    afterBuildTicks: s => { s.ticks = yGrid.map(t => ({ value: t.value })); },
                    afterFit: s => { s.width = axisWidth; },
                    border: { display: false },
                    grid: {
                        color: "#ebebeb",
                        lineWidth: ctx => (ctx.tick && yLabel(ctx.tick.value) ? 1.1 : 0.6),
                        tickColor: ctx => (ctx.tick && yLabel(ctx.tick.value) ? "#333333" : "rgba(0,0,0,0)"),
                        tickLength: 3
                    },
                    ticks: {
                        autoSkip: false,
                        padding: 3,
                        color: "#4d4d4d",
                        font: { size: 15 },
                        callback: v => yLabel(v)
                    },
                    title: {
                        display: true,
                        text: p.unit,
                        color: "#000",
                        font: { size: 15 },
                        padding: { top: 6, bottom: 2 }
                    }
                }
            }
        }
    });
}

// Legend keys
const KEY_LEFT = 418, KEY_STEP = 89, KEY_TOP = 1421, KEY_SIZE = 48;
const KEY_FILL = "#d9d9d9";
const KEY_BORDER_DASH = [[6, 3], [1.5, 2.5, 5, 2.5], [], [7, 3], [7, 2, 3, 2]];
const KEY_BAR_DASH = [[], [10, 19, 10, 40], [], [], [23, 6, 10, 40]];
const KEY_BAR_START = [5, 6, 5, 5, 5];

function buildLegend() {
    SERIES_NAMES.forEach((name, k) => {
        const x = KEY_LEFT + k * KEY_STEP;
        const cv = document.createElement("canvas");
        cv.className = "key";
        cv.width = KEY_SIZE;
        cv.height = KEY_SIZE;
        cv.style.left = x + "px";
        cv.style.top = KEY_TOP + "px";
        document.body.appendChild(cv);

        const ctx = cv.getContext("2d");
        ctx.fillStyle = KEY_FILL;
        ctx.fillRect(1, 1, KEY_SIZE - 2, KEY_SIZE - 2);
        ctx.strokeStyle = SERIES_COLORS[k];
        ctx.lineWidth = k === 2 ? 2 : 1.5;
        ctx.setLineDash(KEY_BORDER_DASH[k]);
        ctx.strokeRect(1, 1, KEY_SIZE - 2, KEY_SIZE - 2);
        ctx.setLineDash(KEY_BAR_DASH[k]);
        ctx.lineWidth = 11;
        ctx.lineCap = "butt";
        ctx.beginPath();
        ctx.moveTo(KEY_BAR_START[k], KEY_SIZE / 2);
        ctx.lineTo(KEY_SIZE - 4, KEY_SIZE / 2);
        ctx.stroke();

        const label = document.createElement("span");
        label.className = "key-label";
        label.textContent = name;
        label.style.left = (x + 58) + "px";
        label.style.top = KEY_TOP + "px";
        document.body.appendChild(label);
    });
}

PANELS.forEach(buildPanel);
buildLegend();
</script>
</body>
</html>
